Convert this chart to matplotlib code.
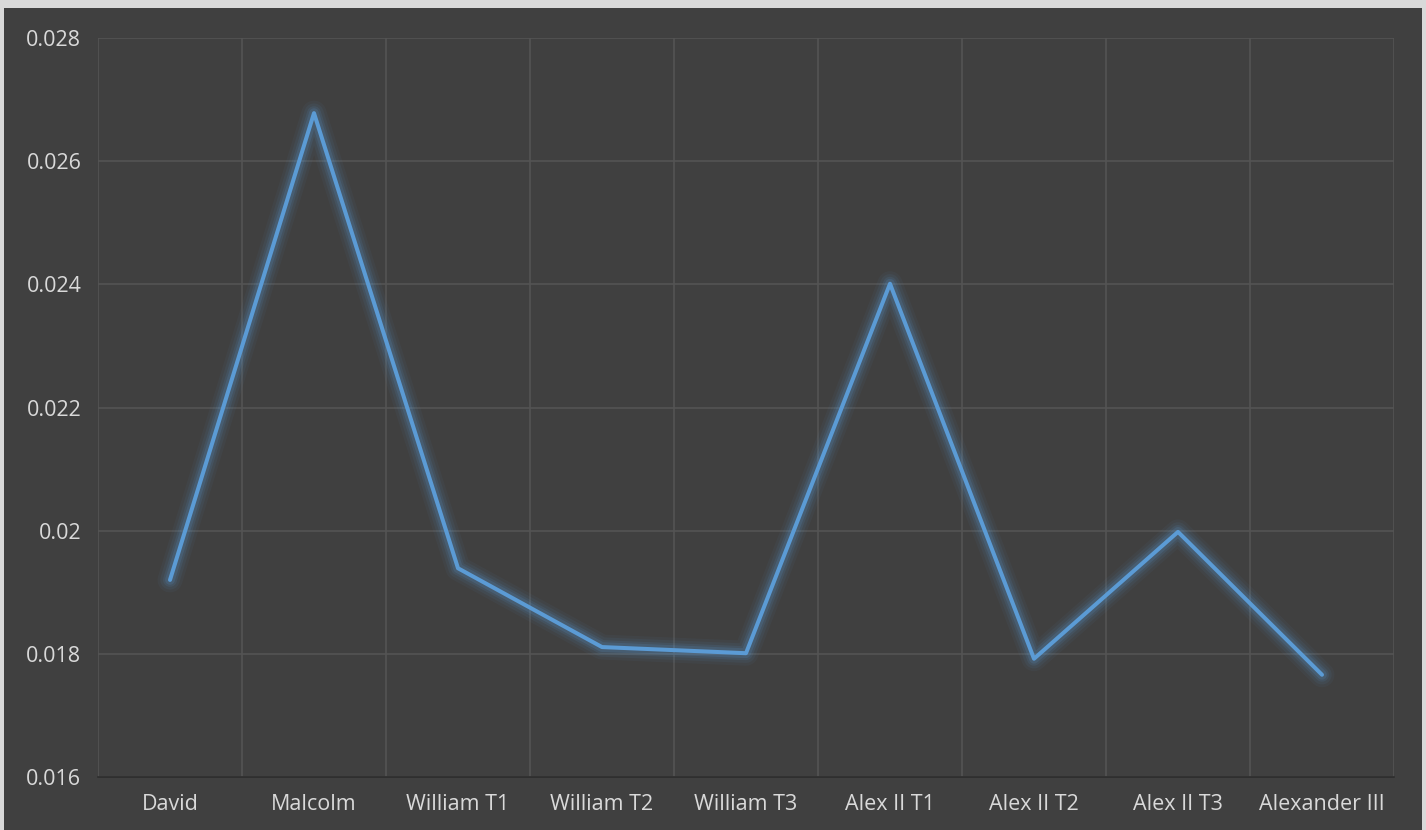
import numpy as np
import matplotlib.pyplot as plt
from matplotlib.patches import Rectangle
from matplotlib.ticker import FixedLocator

# data
names = ['David', 'Malcolm', 'William T1', 'William T2', 'William T3',
         'Alex II T1', 'Alex II T2', 'Alex II T3', 'Alexander III']
values = [0.01920, 0.02678, 0.01939, 0.01811, 0.01801,
          0.02401, 0.01792, 0.01998, 0.01766]
yticks = [0.016, 0.018, 0.020, 0.022, 0.024, 0.026, 0.028]
ylabels = ['0.016', '0.018', '0.02', '0.022', '0.024', '0.026', '0.028']

bg = '#404040'
grid = '#555555'
txt = '#d9d9d9'
blue = '#5b9bd5'

plt.rcParams['font.family'] = ['Open Sans', 'DejaVu Sans']

fig = plt.figure(figsize=(14.26, 8.30), dpi=100)
fig.patch.set_facecolor('#d9d9d9')
# dark chart area inside the thin light border
fig.patches.append(Rectangle((4 / 1426, 0), 1418 / 1426, 822 / 830,
                             transform=fig.transFigure, facecolor=bg,
                             edgecolor='none', zorder=-10))

ax = fig.add_axes([98 / 1426, 53 / 830, 1296 / 1426, 739 / 830])
ax.set_facecolor(bg)

x = np.arange(len(names))
# soft glow behind the line
for w, a in [(18, 0.05), (14, 0.07), (10, 0.11), (7, 0.16)]:
    ax.plot(x, values, color=blue, lw=w, alpha=a, solid_capstyle='round',
            solid_joinstyle='round', zorder=2)
ax.plot(x, values, color=blue, lw=2.9, solid_capstyle='round',
        solid_joinstyle='round', zorder=3)

ax.set_xlim(-0.5, len(names) - 0.5)
ax.set_ylim(0.016, 0.028)
ax.set_yticks(yticks)
ax.set_yticklabels(ylabels)
ax.set_xticks(x)
ax.set_xticklabels(names)
ax.xaxis.set_minor_locator(FixedLocator(np.arange(-0.5, len(names), 1)))

ax.grid(axis='y', which='major', color=grid, lw=1.1, zorder=1)
ax.grid(axis='x', which='minor', color=grid, lw=1.1, zorder=1)
ax.set_axisbelow(True)

for s in ['top', 'right', 'left']:
    ax.spines[s].set_visible(False)
ax.spines['bottom'].set_color('#2a2a2a')
ax.spines['bottom'].set_linewidth(1.1)

ax.tick_params(axis='both', which='both', length=0, colors=txt,
               labelsize=15.5)
ax.tick_params(axis='x', pad=12)
ax.tick_params(axis='y', pad=12)

fig.savefig('out.png', dpi=100, facecolor=fig.get_facecolor())
